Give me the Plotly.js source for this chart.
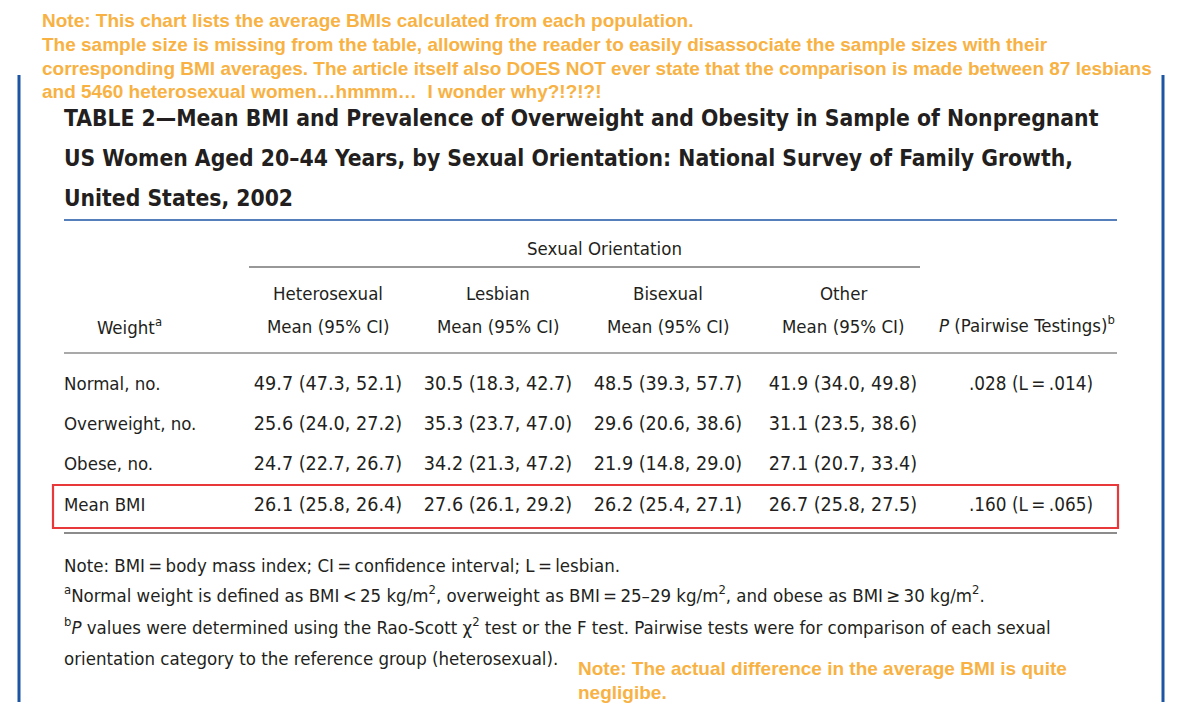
<!DOCTYPE html>
<html>
<head>
<meta charset="utf-8">
<script src="https://cdn.plot.ly/plotly-3.0.1.min.js"></script>
<style>html,body{margin:0;padding:0;background:#fff;}#chart{width:1184px;height:708px;}</style>
</head>
<body>
<div id="chart"></div>
<script>
// ---------- DATA ----------
const weightCategories = ["Normal, no.", "Overweight, no.", "Obese, no.", "Mean BMI"];
const orientations = ["Heterosexual", "Lesbian", "Bisexual", "Other"];
const heteroMean = [49.7, 25.6, 24.7, 26.1];
const heteroLow  = [47.3, 24.0, 22.7, 25.8];
const heteroHigh = [52.1, 27.2, 26.7, 26.4];
const lesbianMean = [30.5, 35.3, 34.2, 27.6];
const lesbianLow  = [18.3, 23.7, 21.3, 26.1];
const lesbianHigh = [42.7, 47.0, 47.2, 29.2];
const bisexualMean = [48.5, 29.6, 21.9, 26.2];
const bisexualLow  = [39.3, 20.6, 14.8, 25.4];
const bisexualHigh = [57.7, 38.6, 29.0, 27.1];
const otherMean = [41.9, 31.1, 27.1, 26.7];
const otherLow  = [34.0, 23.5, 20.7, 25.8];
const otherHigh = [49.8, 38.6, 33.4, 27.5];
const pValues = [".028", "", "", ".160"];
const pLesbian = [".014", "", "", ".065"];

const titleLines = [
  "TABLE 2\u2014Mean BMI and Prevalence of Overweight and Obesity in Sample of Nonpregnant",
  "US Women Aged 20\u201344 Years, by Sexual Orientation: National Survey of Family Growth,",
  "United States, 2002"
];
const topNotes = [
  "Note: This chart lists the average BMIs calculated from each population.",
  "The sample size is missing from the table, allowing the reader to easily disassociate the sample sizes with their",
  "corresponding BMI averages. The article itself also DOES NOT ever state that the comparison is made between 87 lesbians",
  "and 5460 heterosexual women\u2026hmmm\u2026  I wonder why?!?!?!"
];
const footnotes = [
  "Note: BMI\u2009=\u2009body mass index; CI\u2009=\u2009confidence interval; L\u2009=\u2009lesbian.",
  "<sup>a</sup>Normal weight is defined as BMI\u2009<\u200925 kg/m<sup>2</sup>, overweight as BMI\u2009=\u200925\u201329 kg/m<sup>2</sup>, and obese as BMI\u2009\u2265\u200930 kg/m<sup>2</sup>.",
  "<sup>b</sup><i>P</i> values were determined using the Rao-Scott \u03c7<sup>2</sup> test or the F test. Pairwise tests were for comparison of each sexual",
  "orientation category to the reference group (heterosexual)."
];
const bottomNotes = [
  "Note: The actual difference in the average BMI is quite",
  "negligibe."
];

// ---------- STYLE / LAYOUT ----------
const W = 1184, H = 708;
const INK = "#231f20";
const ORANGE = "#f8b244";
const BLUE = "#1c55a3";
const RED = "#e8383a";
const COND = "'DejaVu Sans Condensed', 'Liberation Sans Narrow', sans-serif";
const ARIAL = "'Liberation Sans', Arial, sans-serif";
const BODY = 18.5;
const VAL = 19.6;

const colX = [328, 498, 668, 843];
const pX = 1031;
const labelX = 64;
const rowY = [385, 425, 465, 506];

function fmt(m, lo, hi) { return m.toFixed(1) + " (" + lo.toFixed(1) + ", " + hi.toFixed(1) + ")"; }
const series = [
  [heteroMean, heteroLow, heteroHigh],
  [lesbianMean, lesbianLow, lesbianHigh],
  [bisexualMean, bisexualLow, bisexualHigh],
  [otherMean, otherLow, otherHigh]
];

const traces = [];
traces.push({
  type: "scatter", mode: "text",
  x: weightCategories.map(() => labelX), y: rowY,
  text: weightCategories, textposition: "middle right",
  textfont: {family: COND, size: BODY, color: INK},
  hoverinfo: "skip", showlegend: false
});
series.forEach((s, ci) => {
  traces.push({
    type: "scatter", mode: "text",
    x: rowY.map(() => colX[ci]), y: rowY,
    text: s[0].map((m, i) => fmt(m, s[1][i], s[2][i])),
    textposition: "middle center",
    textfont: {family: COND, size: VAL, color: INK},
    hoverinfo: "skip", showlegend: false, name: orientations[ci]
  });
});
const pIdx = pValues.map((p, i) => i).filter(i => pValues[i]);
traces.push({
  type: "scatter", mode: "text",
  x: pIdx.map(() => pX), y: pIdx.map(i => rowY[i]),
  text: pIdx.map(i => pValues[i] + " (L\u2009=\u2009" + pLesbian[i] + ")"),
  textposition: "middle center",
  textfont: {family: COND, size: 18.8, color: INK},
  hoverinfo: "skip", showlegend: false
});

const ann = [];
function addText(x, y, text, font, anchor) {
  ann.push({x: x, y: y, xref: "x", yref: "y", text: text, showarrow: false,
    xanchor: anchor || "left", yanchor: "middle", font: font, align: anchor || "left"});
}
const notePos = [20, 44, 68, 91];
topNotes.forEach((t, i) => addText(40, notePos[i], "<b>" + t + "</b>", {family: ARIAL, size: 19, color: ORANGE}));
const titlePos = [118, 158, 198];
titleLines.forEach((t, i) => addText(62, titlePos[i], "<b>" + t + "</b>", {family: COND, size: 22.7, color: INK}));
addText(604, 248, "Sexual Orientation", {family: COND, size: BODY, color: INK}, "center");
orientations.forEach((o, i) => {
  addText(colX[i], 293, o, {family: COND, size: BODY, color: INK}, "center");
  addText(colX[i], 326, "Mean (95% CI)", {family: COND, size: BODY, color: INK}, "center");
});
addText(129, 326, "Weight<sup>a</sup>", {family: COND, size: BODY, color: INK}, "center");
addText(1117, 324, "<i>P</i> (Pairwise Testings)<sup>b</sup>", {family: COND, size: BODY, color: INK}, "right");
const footPos = [565, 594, 626, 658];
footnotes.forEach((t, i) => addText(62, footPos[i], t, {family: COND, size: BODY, color: INK}));
const bnPos = [668, 692];
bottomNotes.forEach((t, i) => addText(576, bnPos[i], "<b>" + t + "</b>", {family: ARIAL, size: 19, color: ORANGE}));

const shapes = [
  {type: "line", xref: "x", yref: "y", x0: 19, x1: 19, y0: 75, y1: 702, line: {color: BLUE, width: 3}},
  {type: "line", xref: "x", yref: "y", x0: 1163, x1: 1163, y0: 75, y1: 702, line: {color: BLUE, width: 3}},
  {type: "line", xref: "x", yref: "y", x0: 64, x1: 1117, y0: 220, y1: 220, line: {color: BLUE, width: 1.5}},
  {type: "line", xref: "x", yref: "y", x0: 249, x1: 920, y0: 267, y1: 267, line: {color: "#333", width: 1.2}},
  {type: "line", xref: "x", yref: "y", x0: 64, x1: 1117, y0: 353, y1: 353, line: {color: "#555", width: 1.2}},
  {type: "line", xref: "x", yref: "y", x0: 64, x1: 1117, y0: 533, y1: 533, line: {color: "#666", width: 1.5}},
  {type: "rect", xref: "x", yref: "y", x0: 53, x1: 1118, y0: 485, y1: 528, line: {color: RED, width: 2.2}, fillcolor: "rgba(0,0,0,0)"}
];

const layout = {
  width: W, height: H,
  margin: {l: 0, r: 0, t: 0, b: 0, pad: 0},
  paper_bgcolor: "#fff", plot_bgcolor: "#fff",
  xaxis: {range: [0, W], visible: false, fixedrange: true},
  yaxis: {range: [H, 0], visible: false, fixedrange: true},
  annotations: ann, shapes: shapes, showlegend: false
};
Plotly.newPlot("chart", traces, layout, {staticPlot: true, displayModeBar: false});
</script>
</body>
</html>
